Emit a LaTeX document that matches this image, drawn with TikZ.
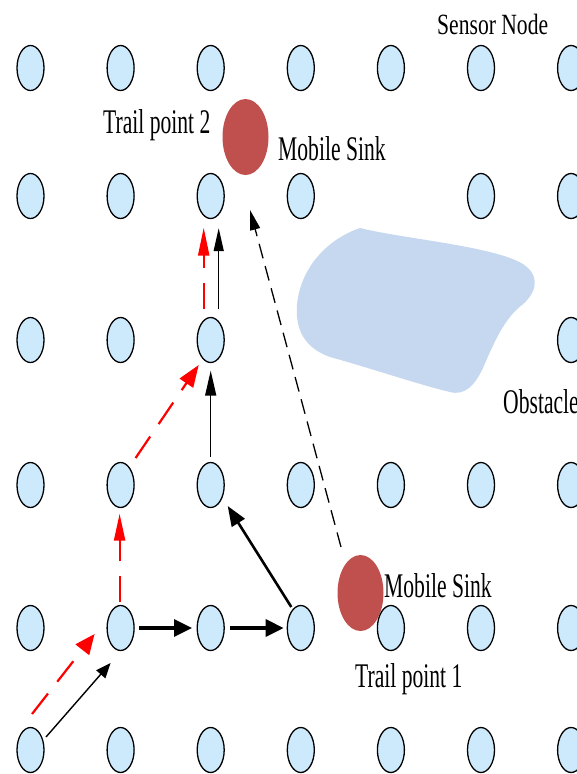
\documentclass[tikz,border=0pt]{standalone}
\usepackage{fontspec}
\setmainfont{Liberation Serif}
\usetikzlibrary{shapes.geometric,arrows.meta}
\definecolor{nodeblue}{RGB}{204,234,252}
\definecolor{sinkred}{RGB}{192,80,77}
\definecolor{obstblue}{RGB}{198,216,239}

\begin{document}
\begin{tikzpicture}[x=1pt,y=-1pt]

	\tikzset{sensor/.style={ellipse,draw,line width=1.3pt,fill=nodeblue,minimum width=27pt,minimum height=45pt,inner sep=0pt},
		sink/.style={ellipse,fill=sinkred,minimum width=46pt,minimum height=76pt,inner sep=0pt},
		lbl/.style={anchor=base west,inner sep=0pt,font=\fontsize{21.6}{24}\selectfont,yscale=1.6},
		blkline/.style={line width=1.4pt},
		boldline/.style={line width=3.2pt},
		redline/.style={red,line width=2.2pt,dash pattern=on 26pt off 15pt}}
	\useasboundingbox (0,0) rectangle (577,774);

	\fill[obstblue] (360,228) .. controls (400,238) and (480,245) .. (515,260)
		.. controls (540,270) and (540,290) .. (522,305)
		.. controls (505,318) and (495,340) .. (483,368)
		.. controls (475,385) and (465,396) .. (450,392)
		.. controls (420,385) and (370,368) .. (330,357)
		.. controls (305,348) and (295,330) .. (297,305)
		.. controls (300,270) and (325,240) .. (360,228) -- cycle;

	\foreach \r/\yy/\cols in {1/68/{1,...,7},2/196/{1,2,3,4,6,7},3/340/{1,2,3,7},4/485/{1,...,7},5/628/{1,...,7},6/750/{1,...,7}}
		\foreach \c in \cols
			\node[sensor] (s-\c-\r) at ({30.5+90.1*(\c-1)},\yy) {};

	\node[sink] (sink2) at (245.5,137) {};
	\node[sink] (sink1) at (360.5,593) {};

	\draw[redline,-{Triangle[length=20pt,width=17pt]}] ([shift={(1.5,-36)}]s-1-6.center) -- ([shift={(-26,6)}]s-2-5.center);
	\draw[blkline,-{Triangle[length=15pt,width=12pt]}] ([shift={(15.5,-13)}]s-1-6.center) -- ([shift={(-10,35)}]s-2-5.center);
	\draw[boldline,-{Triangle[length=18pt,width=17pt]},shorten <=4.5pt,shorten >=4.5pt] (s-2-5.east) -- (s-3-5.west);
	\draw[boldline,-{Triangle[length=18pt,width=17pt]},shorten <=5.5pt,shorten >=3pt] (s-3-5.east) -- (s-4-5.west);
	\draw[line width=2.6pt,-{Triangle[length=20pt,width=15pt]}] ([shift={(-9.5,-21)}]s-4-5.center) -- ([shift={(17,21)}]s-3-4.center);
	\draw[blkline,-{Triangle[length=25pt,width=11pt]},shorten <=5pt,shorten >=7.5pt] (s-3-4.north) -- (s-3-3.south);
	\draw[redline,-{Triangle[length=22pt,width=16pt]}] ([shift={(15,-27)}]s-2-4.center) -- ([shift={(-12,25)}]s-3-3.center);
	\draw[redline,-{Triangle[length=27pt,width=11pt]},shorten <=2.5pt,shorten >=5.5pt] ([xshift=-1pt]s-2-5.north) -- ([xshift=-1pt]s-2-4.south);
	\draw[redline,-{Triangle[length=28pt,width=11pt]},shorten <=7.5pt,shorten >=8.5pt] ([xshift=-7pt]s-3-3.north) -- ([xshift=-7pt]s-3-2.south);
	\draw[blkline,-{Triangle[length=23pt,width=10pt]},shorten <=7.5pt,shorten >=9pt] ([xshift=8pt]s-3-3.north) -- ([xshift=8pt]s-3-2.south);
	\draw[line width=1.3pt,dash pattern=on 15pt off 8pt,-{Triangle[length=20pt,width=10pt]}] ([shift={(-19.5,-46)}]sink1.center) -- ([shift={(4.5,73)}]sink2.center);

	\node[lbl,yscale=0.85] (sensorlbl) at (437,34) {Sensor Node};
	\node[lbl] (trail2) at (103,133) {Trail point 2};
	\node[lbl] (sinklbl2) at (278,160) {Mobile Sink};
	\node[lbl] (obstlbl) at (503,413) {Obstacle};
	\node[lbl] (sinklbl1) at (384,597) {Mobile Sink};
	\node[lbl] (trail1) at (355,687) {Trail point 1};

\end{tikzpicture}
\end{document}
